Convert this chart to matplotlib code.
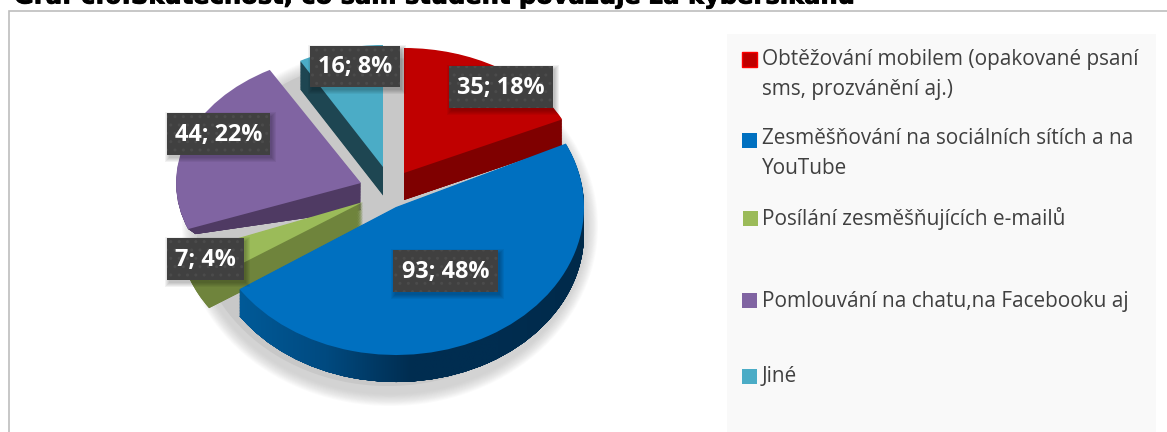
import numpy as np
import matplotlib
matplotlib.use("Agg")
import matplotlib.pyplot as plt
import matplotlib.patheffects as pe
from matplotlib.patches import Rectangle, Ellipse
from matplotlib.path import Path
from matplotlib.transforms import Affine2D, IdentityTransform
from matplotlib.colors import LinearSegmentedColormap

title = "Graf č.6:Skutečnost, co sám student považuje za kyberšikanu"
values = [35, 93, 7, 44, 16]
percents = [18, 48, 4, 22, 8]
legend_labels = ["Obtěžování mobilem (opakované psaní", "sms, prozvánění aj.)",
                 "Zesměšňování na sociálních sítích a na", "YouTube",
                 "Posílání zesměšňujících e-mailů",
                 "Pomlouvání na chatu,na Facebooku aj", "Jiné"]
top_colors = ["#c00000", "#0070c0", "#9bbb59", "#8064a2", "#4bacc6"]
side_colors = ["#7f0000", "#00305a", "#6f843c", "#4f3a63", "#1e4652"]

W, H = 1167, 432
fig = plt.figure(figsize=(W / 100, H / 100), dpi=100, facecolor="white")
ax = fig.add_axes([0, 0, 1, 1])

# per-slice placement in pixels: centre x, centre y, radius x, radius y
geom = [(404, 173, 175, 125), (396, 207, 188, 148), (363, 202, 185, 141),
        (361, 183, 185, 130), (383, 167, 168, 122)]
# how the side wall narrows with depth (radius x, radius y change at full depth)
taper = [(0, 0), (0, 0), (0, 0), (-8, -62), (0, 0)]
draw_order = [4, 3, 0, 2, 1]
depths = [27, 27, 28, 27, 29]

def place(wedge, g, dy, z, tp=(0, 0), t=0.0):
    cx, cy, rx, ry = g
    wedge.set_transform(Affine2D().scale(rx + tp[0] * t, -(ry + tp[1] * t)).translate(cx, cy + dy)
                        + ax.transData)
    wedge.set_zorder(z)
    wedge.set_linewidth(0)

def pie_layer(colors):
    w, _ = ax.pie(values, colors=colors, startangle=90, counterclock=False)
    return w

blue_side = []
for d in np.arange(28.5, 0, -0.75):
    ws = pie_layer(side_colors)
    for rank, i in enumerate(draw_order):
        dy = min(d, depths[i])
        place(ws[i], geom[i], dy, 10 + rank * 2, taper[i], dy / depths[i])
        if i == 1:
            blue_side.append(ws[i])
ws = pie_layer(top_colors)
for rank, i in enumerate(draw_order):
    place(ws[i], geom[i], 0, 11 + rank * 2)

ax.set_aspect("auto")
ax.set_xlim(0, W)
ax.set_ylim(H, 0)
ax.axis("off")
ax.set_position([0, 0, 1, 1])

# side shading of the large slice
fig.canvas.draw()
clip = Path.make_compound_path(*[w.get_transform().transform_path(w.get_path()) for w in blue_side])
cmap = LinearSegmentedColormap.from_list("b", ["#005a98", "#004a80", "#002d50", "#002d50", "#002a4a"])
im = ax.imshow(np.linspace(0, 1, 256)[None, :], extent=(239, 585, 400, 140), cmap=cmap,
               aspect="auto", zorder=18.5)
im.set_clip_path(clip, IdentityTransform())
ax.set_xlim(0, W)
ax.set_ylim(H, 0)

# soft ground shadow
for k in range(14):
    g = 12 - k * 0.9
    ax.add_patch(Ellipse((390, 226), 2 * (196 + g), 2 * (168 + g), fc="#b4b4b4", ec="none",
                         alpha=0.05, zorder=2))
ax.add_patch(Ellipse((388, 222), 2 * 192, 2 * 164, fc="#c8c8c8", ec="none", zorder=3))

# frame and legend panel
ax.plot([8.5, 8.5, W], [H, 10.5, 10.5], color="#bdbdbd", lw=1.2, zorder=1, solid_joinstyle="miter")
ax.add_patch(Rectangle((727, 34), 429, H - 34, fc="#f9f9f9", ec="none", zorder=1))

# title, cut by the top edge as in the source
ax.text(14, 3.5, title, fontsize=17.4, fontweight="bold", family="DejaVu Sans", color="black",
        va="baseline", ha="left", zorder=30,
        path_effects=[pe.withStroke(linewidth=0.6, foreground="black")])

# data labels
boxes = [(449, 66, 553, 108), (393, 250, 498, 292), (167, 238, 244, 280),
         (167, 113, 270, 155), (310, 46, 400, 87)]
plt.rcParams["hatch.linewidth"] = 1.0
for v, p, (x0, y0, x1, y1) in zip(values, percents, boxes):
    for k in range(5):
        ax.add_patch(Rectangle((x0 + 2 - k, y0 + 3 - k), x1 - x0 + 2 * k, y1 - y0 + 2 * k,
                               fc="black", ec="none", alpha=0.05, zorder=24))
    ax.add_patch(Rectangle((x0, y0), x1 - x0, y1 - y0, fc="#404040", ec="#4b4b4b", lw=0,
                           hatch="..", zorder=25))
    ax.text((x0 + x1) / 2, (y0 + y1) / 2 + 1, f"{v}; {p}%", color="white", fontsize=16.8,
            fontweight="bold", family="Open Sans", ha="center", va="center", zorder=26)

# legend
legend_ys = [60, 89, 139, 169, 219, 301, 377]
swatches = [(742, 52, 0), (742, 133, 1), (743, 211, 2), (742, 293, 3), (742, 369, 4)]
for x, y, i in swatches:
    ax.add_patch(Rectangle((x, y), 15, 15, fc=top_colors[i],
                           ec="#ff0000" if i == 0 else "none", lw=1 if i == 0 else 0, zorder=5))
for s, y in zip(legend_labels, legend_ys):
    ax.text(762, y, s, color="#404040", fontsize=14.95, family="Open Sans", ha="left", va="center", zorder=5)

fig.savefig("out.png", dpi=100)
